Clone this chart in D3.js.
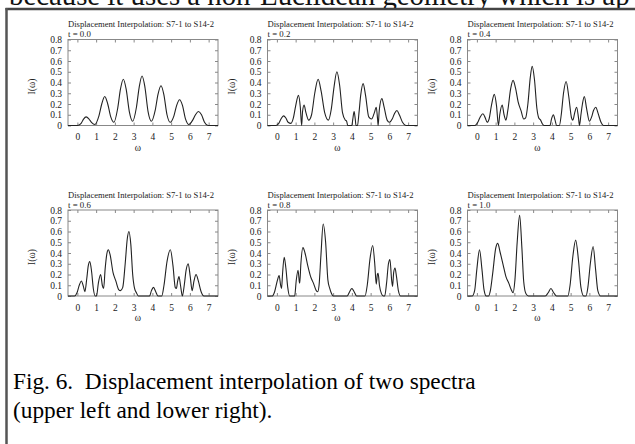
<!DOCTYPE html>
<html><head><meta charset="utf-8">
<script src="https://cdn.jsdelivr.net/npm/d3@7"></script>
<style>
html,body{margin:0;padding:0;background:#fff;}
svg{display:block;}
</style></head>
<body>
<svg id="c" width="635" height="444"></svg>
<script>
// ---- data ----
const chartTitle = "Displacement Interpolation: S7-1 to S14-2";
const tLabels = ["t = 0.0","t = 0.2","t = 0.4","t = 0.6","t = 0.8","t = 1.0"];
const xTicks = [0,1,2,3,4,5,6,7];
const yTicks = [0,0.1,0.2,0.3,0.4,0.5,0.6,0.7,0.8];
const xLabel = "ω";
const yLabel = "I(ω)";
const captionLines = ["Fig. 6.  Displacement interpolation of two spectra","(upper left and lower right)."];
const topText = "because it uses a non-Euclidean geometry which is ap";

const spectrumT00 = [[-0.5,0],[0.0,0],[0.2,0.02],[0.33,0.06],[0.47,0.08],[0.62,0.06],[0.75,0.03],[0.93,0.01],
[1.15,0.09],[1.3,0.2],[1.46,0.27],[1.62,0.2],[1.78,0.08],[1.95,0.03],
[2.15,0.16],[2.3,0.34],[2.45,0.43],[2.6,0.34],[2.77,0.13],[2.95,0.04],
[3.15,0.17],[3.3,0.36],[3.45,0.46],[3.6,0.36],[3.77,0.13],[3.95,0.04],
[4.15,0.14],[4.3,0.29],[4.46,0.37],[4.61,0.29],[4.78,0.1],[4.95,0.03],
[5.15,0.09],[5.3,0.19],[5.45,0.24],[5.6,0.19],[5.77,0.06],[5.95,0.01],
[6.15,0.05],[6.3,0.1],[6.46,0.13],[6.62,0.1],[6.78,0.03],[6.97,0],[7.5,0]];

const spectrumT02 = [[-0.5,0],[-0.05,0],[0.1,0.02],[0.22,0.06],[0.35,0.09],[0.48,0.07],[0.6,0.03],[0.75,0.02],
[0.88,0.07],[1.0,0.18],[1.15,0.28],[1.25,0.17],[1.32,0],
[1.37,0.13],[1.45,0.19],[1.55,0.12],[1.7,0.05],
[1.85,0.1],[2.02,0.3],[2.2,0.43],[2.36,0.32],[2.55,0.12],[2.75,0.05],
[2.9,0.15],[3.05,0.36],[3.2,0.5],[3.35,0.37],[3.5,0.12],[3.65,0.05],[3.72,0.04],[3.78,0],
[4.0,0],[4.05,0.06],[4.12,0.13],[4.18,0.06],[4.22,0],[4.3,0],
[4.38,0.12],[4.47,0.28],[4.6,0.39],[4.73,0.28],[4.9,0.08],[5.05,0.06],
[5.2,0.12],[5.3,0.17],[5.37,0.06],[5.4,0],
[5.46,0.14],[5.6,0.25],[5.72,0.17],[5.88,0.05],[6.0,0.03],
[6.15,0.06],[6.27,0.11],[6.4,0.14],[6.53,0.1],[6.7,0.03],[6.88,0],[7.5,0]];

const spectrumT04 = [[-0.5,0],[-0.1,0],[0.05,0.03],[0.18,0.08],[0.32,0.11],[0.45,0.07],[0.55,0.03],
[0.65,0.06],[0.78,0.19],[0.93,0.29],[1.05,0.18],[1.15,0],
[1.22,0.1],[1.35,0.19],[1.45,0.1],[1.55,0.05],
[1.65,0.14],[1.8,0.34],[1.93,0.42],[2.06,0.35],[2.2,0.22],[2.35,0.14],[2.5,0.06],[2.6,0.07],
[2.72,0.2],[2.85,0.45],[2.95,0.55],[3.07,0.43],[3.2,0.16],[3.3,0.07],[3.4,0.05],[3.48,0.02],[3.58,0],
[3.9,0],[3.98,0.06],[4.08,0.1],[4.17,0.05],[4.25,0],[4.4,0],
[4.5,0.1],[4.62,0.3],[4.76,0.41],[4.9,0.27],[5.05,0.07],[5.12,0.05],
[5.22,0.12],[5.32,0.17],[5.42,0.07],[5.47,0],
[5.55,0.1],[5.63,0.2],[5.73,0.27],[5.85,0.16],[6.0,0.04],
[6.12,0.08],[6.22,0.14],[6.34,0.17],[6.47,0.11],[6.62,0.03],[6.75,0],[7.5,0]];

const spectrumT06 = [[-0.5,0],[-0.15,0],[-0.02,0.03],[0.1,0.1],[0.21,0.14],[0.32,0.09],[0.4,0.04],
[0.5,0.16],[0.58,0.28],[0.66,0.32],[0.75,0.24],[0.85,0.07],[0.95,0],[1.02,0],
[1.12,0.12],[1.24,0.2],[1.33,0.1],[1.4,0.07],
[1.48,0.25],[1.58,0.4],[1.65,0.43],[1.75,0.38],[1.9,0.22],[2.05,0.14],[2.2,0.06],[2.3,0.05],[2.42,0.08],
[2.55,0.3],[2.66,0.53],[2.75,0.6],[2.85,0.48],[2.95,0.2],[3.05,0.07],[3.15,0.03],[3.25,0],
[3.85,0],[3.95,0.05],[4.06,0.08],[4.18,0.04],[4.3,0],[4.5,0],
[4.62,0.1],[4.78,0.32],[4.96,0.43],[5.1,0.28],[5.22,0.08],[5.28,0.07],
[5.35,0.14],[5.42,0.18],[5.5,0.1],[5.6,0],
[5.7,0.1],[5.8,0.24],[5.91,0.3],[6.02,0.18],[6.12,0.05],
[6.22,0.14],[6.33,0.2],[6.45,0.14],[6.6,0.04],[6.75,0],[7.5,0]];

const spectrumT08 = [[-0.5,0],[-0.25,0],[-0.12,0.04],[0.02,0.14],[0.12,0.19],[0.2,0.1],[0.25,0.07],
[0.3,0.2],[0.39,0.36],[0.48,0.26],[0.58,0.08],[0.68,0],[0.95,0],
[1.03,0.14],[1.13,0.24],[1.2,0.13],[1.22,0.12],
[1.28,0.3],[1.39,0.45],[1.5,0.4],[1.65,0.28],[1.8,0.18],[1.95,0.12],[2.1,0.05],[2.18,0.04],[2.25,0.1],
[2.35,0.38],[2.47,0.67],[2.6,0.5],[2.72,0.15],[2.82,0.07],[2.92,0.02],[3.0,0],
[3.75,0],[3.88,0.04],[4.0,0.07],[4.12,0.04],[4.25,0],[4.7,0],
[4.82,0.1],[4.97,0.35],[5.11,0.47],[5.22,0.3],[5.3,0.11],
[5.36,0.2],[5.4,0.21],[5.47,0.1],[5.58,0.02],[5.68,0],[5.75,0],
[5.85,0.12],[5.95,0.3],[6.03,0.34],[6.12,0.15],[6.17,0.09],
[6.23,0.22],[6.3,0.26],[6.38,0.18],[6.48,0.05],[6.6,0],[7.5,0]];

const spectrumT10 = [[-0.5,0],[-0.25,0],[-0.12,0.05],[0.0,0.25],[0.14,0.43],[0.27,0.25],[0.38,0.06],[0.5,0],[0.62,0],
[0.72,0.05],[0.85,0.22],[1.0,0.44],[1.11,0.49],[1.25,0.4],[1.4,0.29],[1.55,0.18],[1.7,0.12],[1.83,0.06],[1.93,0.03],
[2.03,0.15],[2.15,0.5],[2.28,0.75],[2.4,0.45],[2.5,0.13],[2.62,0.02],[2.75,0],
[3.65,0],[3.8,0.03],[3.95,0.07],[4.1,0.03],[4.25,0],
[4.85,0],[4.97,0.1],[5.12,0.37],[5.27,0.52],[5.42,0.33],[5.55,0.08],[5.7,0],[5.82,0],
[5.92,0.08],[6.05,0.3],[6.2,0.46],[6.33,0.25],[6.45,0.05],[6.6,0],[7.5,0]];

const spectra = [spectrumT00, spectrumT02, spectrumT04, spectrumT06, spectrumT08, spectrumT10];

// ---- layout ----
const svg = d3.select("#c");
const FONT = "'Liberation Serif','Times New Roman',serif";
const panelLeft = [68, 267.5, 467.5];
const rowTop = [39.5, 210];
const W = 150, H = 86;

// top cropped text + frame
svg.append("text").attr("x", 9).attr("y", 5).attr("font-family", FONT).attr("font-size", 28.8)
  .attr("fill", "#111").text(topText);
svg.append("rect").attr("x", 0).attr("y", 9).attr("width", 635).attr("height", 435).attr("fill", "#fff");
svg.append("line").attr("x1", 5.5).attr("x2", 635).attr("y1", 9).attr("y2", 9)
  .attr("stroke", "#444").attr("stroke-width", 2.5);
svg.append("line").attr("x1", 6.5).attr("x2", 6.5).attr("y1", 8).attr("y2", 444)
  .attr("stroke", "#555").attr("stroke-width", 2.5);

const x = d3.scaleLinear().domain([-0.5, 7.5]).range([0, W]);
const y = d3.scaleLinear().domain([0, 0.8]).range([H, 0]);
const line = d3.line().x(d => x(d[0])).y(d => y(d[1])).curve(d3.curveMonotoneX);

spectra.forEach((data, i) => {
  const g = svg.append("g").attr("transform", `translate(${panelLeft[i % 3]},${rowTop[Math.floor(i / 3)]})`);
  g.append("text").attr("x", 0).attr("y", -12.5).attr("font-family", FONT).attr("font-size", 8.8)
    .attr("fill", "#222").attr("textLength", 146).attr("lengthAdjust", "spacingAndGlyphs").text(chartTitle);
  g.append("text").attr("x", 0).attr("y", -2.5).attr("font-family", FONT).attr("font-size", 8.8)
    .attr("fill", "#222").text(tLabels[i]);

  const styleAxis = sel => {
    sel.select(".domain").remove();
    sel.selectAll(".tick line").attr("stroke", "#888");
    sel.selectAll(".tick text").attr("font-family", FONT).attr("font-size", 9.5).attr("fill", "#222");
  };
  g.append("g").call(d3.axisLeft(y).tickValues(yTicks).tickFormat(d3.format("~g"))
      .tickSizeInner(-3).tickSizeOuter(0).tickPadding(6)).call(styleAxis);
  g.append("g").attr("transform", `translate(${W},0)`).call(d3.axisRight(y).tickValues(yTicks).tickFormat("")
      .tickSizeInner(-3).tickSizeOuter(0)).call(styleAxis);
  g.append("g").attr("transform", `translate(0,${H})`).call(d3.axisBottom(x).tickValues(xTicks)
      .tickSizeInner(-3).tickSizeOuter(0).tickPadding(8)).call(styleAxis);
  g.append("g").call(d3.axisTop(x).tickValues(xTicks).tickFormat("")
      .tickSizeInner(-3).tickSizeOuter(0)).call(styleAxis);

  g.append("rect").attr("width", W).attr("height", H).attr("fill", "none")
    .attr("stroke", "#888").attr("stroke-width", 1);

  g.append("path").datum(data).attr("d", line).attr("fill", "none")
    .attr("stroke", "#222").attr("stroke-width", 1.1);

  g.append("text").attr("x", W / 2 - 5).attr("y", H + 25).attr("text-anchor", "middle")
    .attr("font-family", FONT).attr("font-size", 9.5).attr("fill", "#222").text(xLabel);
  g.append("text").attr("transform", `translate(-33,${H / 2 + 4}) rotate(-90)`).attr("text-anchor", "middle")
    .attr("font-family", FONT).attr("font-size", 9.5).attr("fill", "#222").text(yLabel);
});

// caption
captionLines.forEach((t, i) => {
  svg.append("text").attr("x", 13).attr("y", 389 + i * 29).attr("font-family", FONT)
    .attr("font-size", 23.3).attr("fill", "#000").attr("xml:space", "preserve")
    .style("white-space", "pre").text(t);
});
</script>
</body></html>
